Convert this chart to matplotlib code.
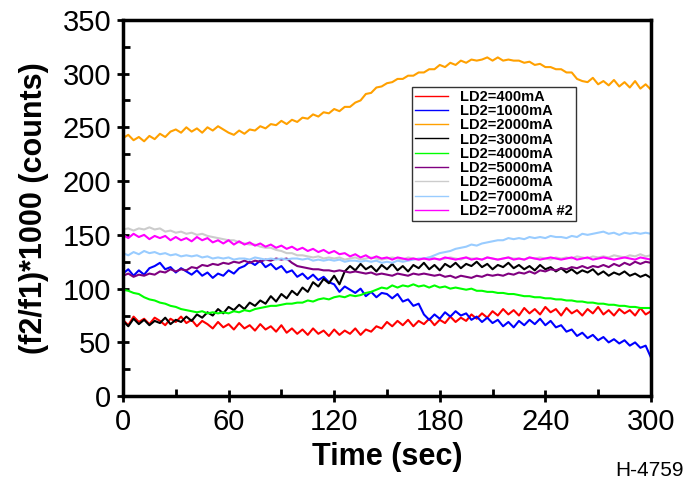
import numpy as np
import matplotlib
matplotlib.use('Agg')
import matplotlib.pyplot as plt
from matplotlib.ticker import MultipleLocator

plt.rcParams['font.family'] = ['Liberation Sans', 'DejaVu Sans']

# signal ratio traces, one value every 3 s from 0 to 300 s
ld2_400 = [71, 66, 74, 69, 72, 67, 73, 70, 66, 72, 69, 74, 68, 71, 65, 70, 67, 63, 69, 64,
           67, 62, 68, 63, 66, 61, 67, 62, 65, 60, 66, 59, 63, 58, 62, 57, 63, 58, 61, 56,
           62, 57, 61, 58, 63, 57, 62, 60, 65, 63, 69, 65, 70, 66, 71, 65, 70, 67, 72, 66,
           71, 68, 74, 69, 73, 70, 76, 72, 77, 73, 79, 75, 81, 76, 80, 75, 82, 77, 81, 76,
           83, 78, 81, 75, 82, 77, 80, 75, 81, 77, 83, 76, 80, 75, 81, 77, 80, 75, 82, 76, 79]
ld2_1000 = [114, 118, 112, 117, 113, 119, 121, 124, 118, 120, 115, 119, 116, 113, 117, 112, 115, 110, 114, 112,
            117, 114, 119, 121, 125, 122, 126, 120, 123, 118, 121, 115, 117, 111, 114, 109, 113, 108, 111, 106,
            104, 97, 102, 99, 96, 100, 93, 97, 92, 96, 95, 91, 95, 88, 90, 84, 86, 76, 71, 76,
            72, 78, 74, 79, 75, 77, 71, 74, 69, 73, 68, 71, 65, 69, 64, 70, 66, 71, 67, 72,
            66, 70, 64, 66, 60, 62, 56, 59, 54, 57, 52, 55, 50, 53, 49, 52, 47, 50, 45, 47, 36]
ld2_2000 = [240, 243, 238, 241, 237, 242, 239, 244, 241, 246, 248, 245, 250, 246, 249, 245, 250, 247, 251, 248,
            245, 243, 247, 244, 248, 247, 251, 249, 253, 252, 256, 253, 257, 255, 259, 258, 262, 260, 264, 263,
            267, 265, 269, 269, 273, 275, 281, 282, 287, 288, 291, 292, 295, 295, 298, 298, 301, 301, 304, 304,
            308, 306, 310, 308, 312, 310, 313, 312, 313, 315, 312, 315, 312, 313, 312, 312, 310, 311, 308, 309,
            306, 306, 304, 304, 301, 301, 295, 293, 292, 296, 290, 293, 289, 294, 288, 292, 287, 293, 286, 290, 285]
ld2_3000 = [70, 65, 72, 67, 71, 66, 70, 68, 73, 67, 71, 69, 74, 70, 76, 73, 78, 75, 81, 77,
            83, 80, 85, 81, 87, 84, 89, 86, 93, 88, 95, 91, 98, 94, 101, 97, 106, 102, 109, 105,
            112, 104, 116, 121, 117, 123, 118, 121, 116, 122, 118, 123, 117, 121, 116, 122, 119, 124, 118, 122,
            117, 123, 120, 124, 119, 123, 121, 125, 120, 123, 118, 122, 120, 124, 119, 122, 118, 121, 117, 122,
            118, 120, 116, 119, 115, 118, 114, 117, 115, 118, 113, 116, 112, 115, 113, 116, 112, 114, 111, 113, 110]
ld2_4000 = [99, 98, 96, 95, 92, 90, 89, 87, 86, 84, 83, 81, 80, 79, 78, 79, 77, 78, 77, 78,
            77, 79, 78, 80, 79, 81, 82, 83, 84, 84, 85, 86, 86, 87, 87, 89, 88, 90, 91, 90,
            92, 93, 92, 94, 93, 94, 96, 97, 99, 101, 100, 103, 101, 103, 102, 104, 102, 103, 101, 103,
            101, 102, 100, 101, 100, 99, 100, 98, 98, 97, 97, 96, 96, 95, 95, 94, 93, 93, 92, 92,
            91, 91, 90, 90, 89, 89, 88, 88, 87, 87, 86, 86, 85, 85, 84, 84, 83, 83, 82, 82, 82]
ld2_5000 = [112, 114, 111, 113, 112, 114, 113, 116, 115, 118, 116, 118, 117, 120, 119, 122, 121, 123, 122, 124,
            123, 125, 124, 126, 124, 126, 125, 127, 126, 128, 127, 128, 124, 121, 120, 119, 118, 118, 117, 117,
            116, 117, 116, 115, 116, 115, 114, 115, 113, 114, 113, 112, 114, 113, 112, 114, 113, 114, 113, 112,
            113, 111, 112, 110, 112, 111, 110, 112, 111, 113, 112, 113, 112, 114, 113, 115, 114, 116, 114, 117,
            116, 118, 117, 119, 118, 120, 119, 121, 119, 121, 120, 122, 120, 123, 121, 124, 122, 125, 123, 125, 124]
ld2_6000 = [155, 156, 154, 156, 155, 157, 155, 156, 153, 154, 152, 153, 151, 152, 150, 151, 149, 148, 147, 146,
            145, 145, 143, 142, 141, 141, 139, 138, 138, 136, 135, 133, 133, 131, 131, 130, 129, 130, 128, 129,
            128, 129, 127, 128, 129, 127, 128, 129, 128, 127, 128, 129, 128, 127, 129, 128, 127, 128, 129, 128,
            127, 128, 129, 128, 127, 129, 128, 128, 127, 129, 128, 127, 128, 129, 128, 128, 127, 129, 128, 129,
            128, 127, 129, 128, 129, 128, 130, 129, 128, 130, 129, 130, 129, 131, 130, 129, 131, 130, 132, 130, 131]
ld2_7000 = [133, 131, 134, 132, 135, 133, 134, 132, 133, 131, 132, 130, 131, 130, 131, 129, 130, 128, 129, 128,
            129, 127, 128, 128, 127, 129, 128, 127, 128, 127, 128, 127, 128, 128, 127, 128, 126, 127, 126, 127,
            126, 127, 125, 126, 126, 125, 126, 125, 126, 124, 125, 124, 126, 125, 126, 127, 128, 128, 129, 131,
            133, 134, 135, 137, 138, 139, 141, 140, 142, 143, 144, 145, 145, 147, 146, 147, 146, 148, 147, 148,
            147, 149, 148, 148, 147, 149, 148, 151, 150, 151, 152, 153, 151, 152, 150, 152, 151, 152, 151, 152, 151]
ld2_7000b = [150, 147, 151, 148, 150, 146, 149, 147, 149, 145, 148, 145, 147, 144, 148, 145, 147, 143, 145, 142,
             145, 141, 144, 141, 143, 140, 142, 139, 141, 138, 140, 137, 139, 136, 138, 135, 137, 134, 136, 133,
             135, 132, 133, 130, 132, 129, 131, 128, 130, 128, 129, 127, 129, 128, 127, 128, 127, 128, 127, 128,
             127, 129, 128, 127, 128, 129, 127, 128, 127, 129, 128, 127, 128, 129, 127, 128, 127, 129, 128, 127,
             128, 129, 128, 127, 128, 129, 127, 128, 129, 127, 128, 129, 128, 127, 128, 129, 128, 127, 129, 128, 127]

series = [ld2_400, ld2_1000, ld2_2000, ld2_3000, ld2_4000, ld2_5000, ld2_6000, ld2_7000, ld2_7000b]
labels = ['LD2=400mA', 'LD2=1000mA', 'LD2=2000mA', 'LD2=3000mA', 'LD2=4000mA',
          'LD2=5000mA', 'LD2=6000mA', 'LD2=7000mA', 'LD2=7000mA #2']
colors = ['#ff0000', '#0000ff', '#ffa000', '#000000', '#00ff00',
          '#800080', '#cccccc', '#99ccff', '#ff00ff']

fig = plt.figure(figsize=(6.91, 4.94), dpi=100)
ax = fig.add_axes([0.178, 0.198, 0.764, 0.762])

for vals, lab, col in zip(series, labels, colors):
    t = np.linspace(0, 300, len(vals))
    ax.plot(t, vals, color=col, lw=1.5, label=lab)

ax.set_xlim(0, 300)
ax.set_ylim(0, 350)
ax.xaxis.set_major_locator(MultipleLocator(60))
ax.xaxis.set_minor_locator(MultipleLocator(30))
ax.yaxis.set_major_locator(MultipleLocator(50))
ax.yaxis.set_minor_locator(MultipleLocator(25))
ax.tick_params(which='major', direction='inout', length=9, width=2, labelsize=21, pad=4)
ax.tick_params(which='minor', direction='in', length=5, width=2)
for sp in ax.spines.values():
    sp.set_linewidth(2.5)

ax.set_xlabel('Time (sec)', fontsize=22, fontweight='bold', labelpad=4)
ax.set_ylabel('(f2/f1)*1000 (counts)', fontsize=22, fontweight='bold', labelpad=10)

leg = ax.legend(loc='upper left', bbox_to_anchor=(0.547, 0.822),
                prop={'weight': 'bold', 'size': 10.5}, frameon=True, fancybox=False,
                handlelength=2.3, handletextpad=0.8, labelspacing=0.02,
                borderpad=0.2, borderaxespad=0)
leg.get_frame().set_edgecolor('black')
leg.get_frame().set_linewidth(1.0)
for line in leg.get_lines():
    line.set_linewidth(1.0)

fig.text(0.99, 0.048, 'H-4759', ha='right', va='center', fontsize=15)

fig.savefig('out.png', dpi=100)
